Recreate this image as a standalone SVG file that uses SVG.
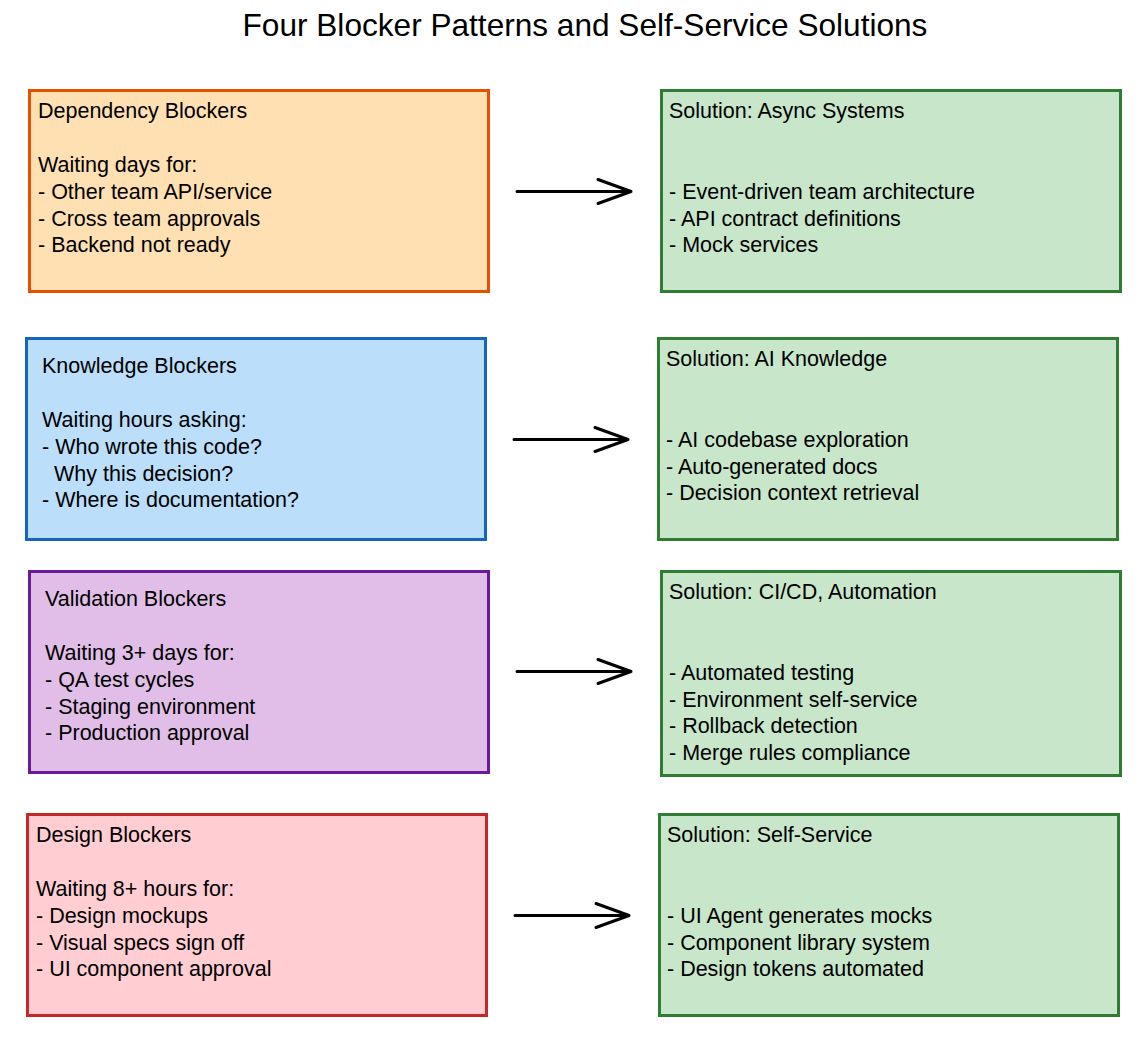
<svg xmlns="http://www.w3.org/2000/svg" width="1145" height="1046" viewBox="0 0 1145 1046">
<defs>
<style>
text{font-family:"Liberation Sans",Arial,sans-serif;fill:#000}
.t{font-size:31.6px}
.b{font-size:21.5px}
.box{stroke-width:3}
.orange{fill:#ffe0b2;stroke:#e65100}
.blue{fill:#bbdefb;stroke:#1565c0}
.purple{fill:#e1bee7;stroke:#6a1b9a}
.red{fill:#ffcdd2;stroke:#c62828}
.green{fill:#c8e6c9;stroke:#2e7d32}
.conn{stroke:#000;stroke-width:3;fill:none;stroke-linejoin:round;stroke-linecap:round}
</style>
</defs>
<rect width="1145" height="1046" fill="#fff"/>
<text class="t" x="585" y="36" text-anchor="middle">Four Blocker Patterns and Self-Service Solutions</text>

<g id="dependency">
<rect class="box orange" x="29.5" y="90.5" width="459" height="201"/>
<text class="b" x="38"><tspan x="38" y="118">Dependency Blockers</tspan><tspan x="38" y="172">Waiting days for:</tspan><tspan x="38" y="199">- Other team API/service</tspan><tspan x="38" y="226">- Cross team approvals</tspan><tspan x="38" y="252">- Backend not ready</tspan></text>
</g>
<g id="sol-async">
<rect class="box green" x="661.5" y="90.5" width="459" height="201"/>
<text class="b"><tspan x="669" y="118">Solution: Async Systems</tspan><tspan x="669" y="199">- Event-driven team architecture</tspan><tspan x="669" y="226">- API contract definitions</tspan><tspan x="669" y="252">- Mock services</tspan></text>
</g>

<g id="knowledge">
<rect class="box blue" x="26.5" y="338.5" width="459" height="201"/>
<text class="b"><tspan x="42" y="373">Knowledge Blockers</tspan><tspan x="42" y="427">Waiting hours asking:</tspan><tspan x="42" y="454">- Who wrote this code?</tspan><tspan x="54" y="481">Why this decision?</tspan><tspan x="42" y="507">- Where is documentation?</tspan></text>
</g>
<g id="sol-ai">
<rect class="box green" x="658.5" y="338.5" width="459" height="201"/>
<text class="b"><tspan x="666" y="366">Solution: AI Knowledge</tspan><tspan x="666" y="447">- AI codebase exploration</tspan><tspan x="666" y="474">- Auto-generated docs</tspan><tspan x="666" y="500">- Decision context retrieval</tspan></text>
</g>

<g id="validation">
<rect class="box purple" x="29.5" y="571.5" width="459" height="201"/>
<text class="b"><tspan x="45" y="606">Validation Blockers</tspan><tspan x="45" y="660">Waiting 3+ days for:</tspan><tspan x="45" y="687">- QA test cycles</tspan><tspan x="45" y="714">- Staging environment</tspan><tspan x="45" y="740">- Production approval</tspan></text>
</g>
<g id="sol-cicd">
<rect class="box green" x="661.5" y="571.5" width="459" height="204"/>
<text class="b"><tspan x="669" y="599">Solution: CI/CD, Automation</tspan><tspan x="669" y="680">- Automated testing</tspan><tspan x="669" y="707">- Environment self-service</tspan><tspan x="669" y="733">- Rollback detection</tspan><tspan x="669" y="760">- Merge rules compliance</tspan></text>
</g>

<g id="design">
<rect class="box red" x="27.5" y="814.5" width="459" height="201"/>
<text class="b"><tspan x="36" y="842">Design Blockers</tspan><tspan x="36" y="896">Waiting 8+ hours for:</tspan><tspan x="36" y="923">- Design mockups</tspan><tspan x="36" y="950">- Visual specs sign off</tspan><tspan x="36" y="976">- UI component approval</tspan></text>
</g>
<g id="sol-self">
<rect class="box green" x="659.5" y="814.5" width="459" height="201"/>
<text class="b"><tspan x="667" y="842">Solution: Self-Service</tspan><tspan x="667" y="923">- UI Agent generates mocks</tspan><tspan x="667" y="950">- Component library system</tspan><tspan x="667" y="976">- Design tokens automated</tspan></text>
</g>

<g id="connectors">
<path class="conn" d="M517 191.5H631M598 179.5L631 191.5L598 203.5"/>
<path class="conn" d="M514 439.5H628M595 427.5L628 439.5L595 451.5"/>
<path class="conn" d="M517 671.5H631M598 659.5L631 671.5L598 683.5"/>
<path class="conn" d="M515 915.5H629M596 903.5L629 915.5L596 927.5"/>
</g>
</svg>
